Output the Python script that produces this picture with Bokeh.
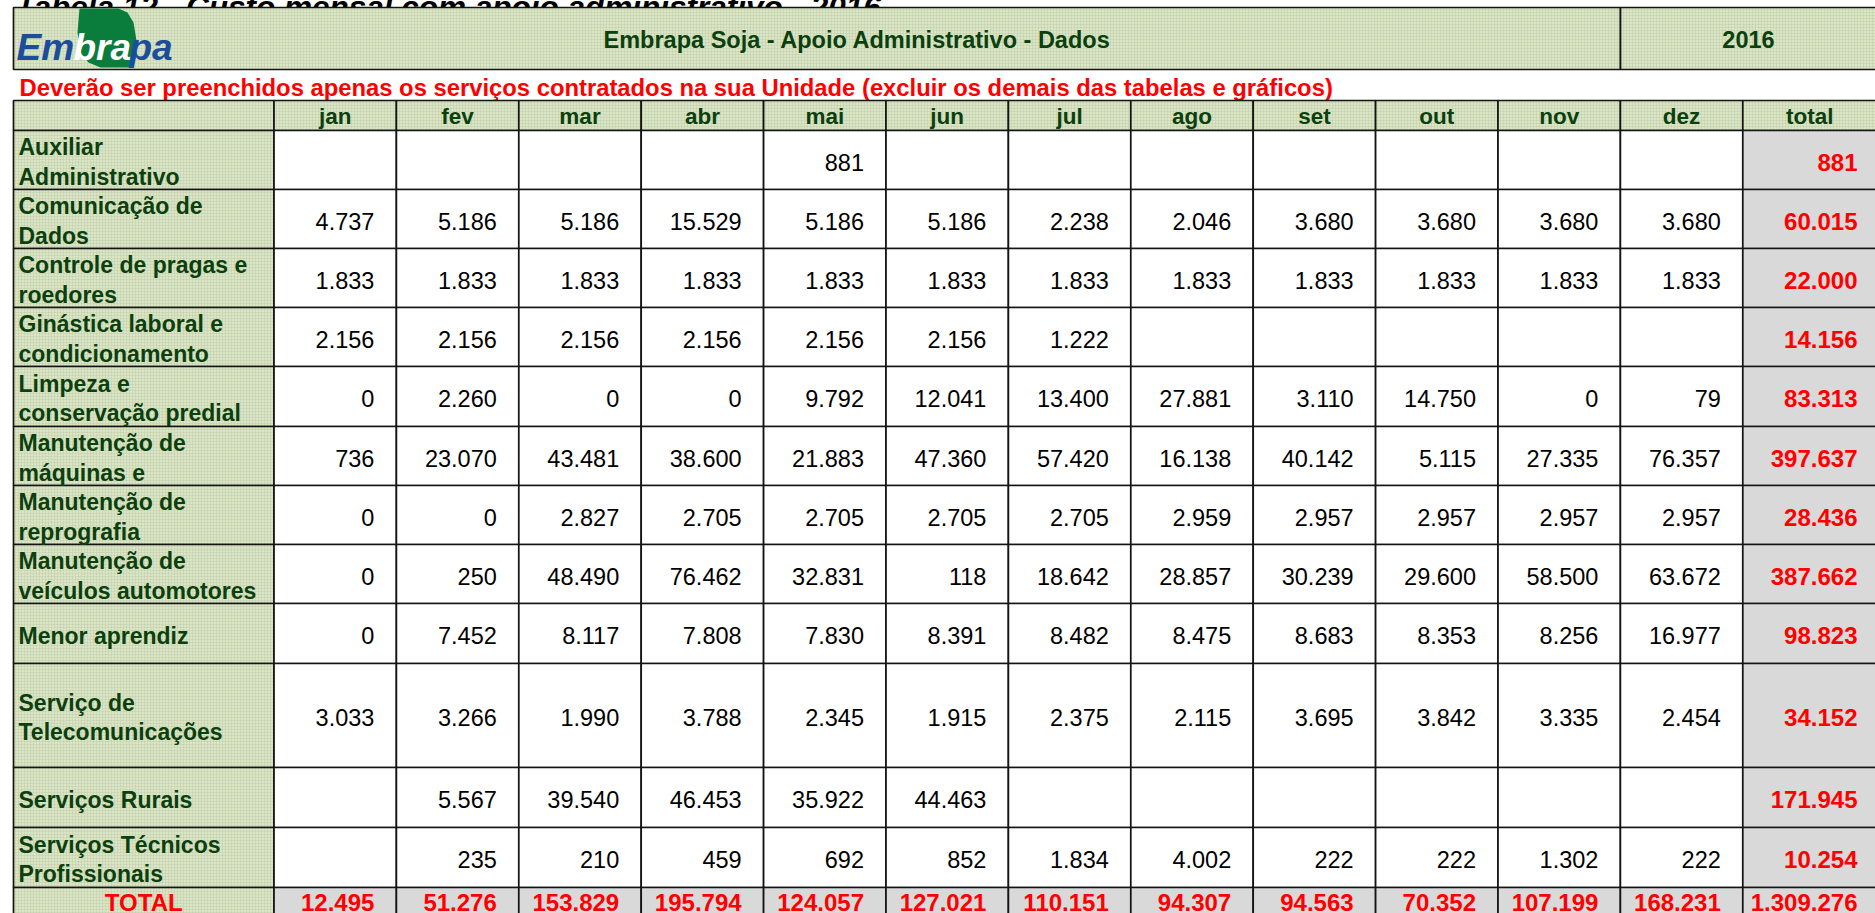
from bokeh.plotting import figure
from bokeh.models import Range1d
from bokeh.core.properties import value
from bokeh.embed import file_html
from bokeh.resources import INLINE

# ---------------- data ----------------
table_title = "Tabela 12 - Custo mensal com apoio administrativo - 2016"
band_title = "Embrapa Soja - Apoio Administrativo - Dados"
year_label = "2016"
note = ("Deverão ser preenchidos apenas os serviços contratados na sua Unidade "
        "(excluir os demais das tabelas e gráficos)")
months = ["jan", "fev", "mar", "abr", "mai", "jun", "jul", "ago", "set", "out", "nov", "dez"]
total_header = "total"
total_label = "TOTAL"

categories = [
    "Auxiliar\nAdministrativo",
    "Comunicação de\nDados",
    "Controle de pragas e\nroedores",
    "Ginástica laboral e\ncondicionamento",
    "Limpeza e\nconservação predial",
    "Manutenção de\nmáquinas e",
    "Manutenção de\nreprografia",
    "Manutenção de\nveículos automotores",
    "Menor aprendiz",
    "Serviço de\nTelecomunicações",
    "Serviços Rurais",
    "Serviços Técnicos\nProfissionais",
]

auxiliar = [None, None, None, None, 881, None, None, None, None, None, None, None]
comunicacao = [4737, 5186, 5186, 15529, 5186, 5186, 2238, 2046, 3680, 3680, 3680, 3680]
pragas = [1833, 1833, 1833, 1833, 1833, 1833, 1833, 1833, 1833, 1833, 1833, 1833]
ginastica = [2156, 2156, 2156, 2156, 2156, 2156, 1222, None, None, None, None, None]
limpeza = [0, 2260, 0, 0, 9792, 12041, 13400, 27881, 3110, 14750, 0, 79]
maquinas = [736, 23070, 43481, 38600, 21883, 47360, 57420, 16138, 40142, 5115, 27335, 76357]
reprografia = [0, 0, 2827, 2705, 2705, 2705, 2705, 2959, 2957, 2957, 2957, 2957]
veiculos = [0, 250, 48490, 76462, 32831, 118, 18642, 28857, 30239, 29600, 58500, 63672]
aprendiz = [0, 7452, 8117, 7808, 7830, 8391, 8482, 8475, 8683, 8353, 8256, 16977]
telecom = [3033, 3266, 1990, 3788, 2345, 1915, 2375, 2115, 3695, 3842, 3335, 2454]
rurais = [None, 5567, 39540, 46453, 35922, 44463, None, None, None, None, None, None]
tecnicos = [None, 235, 210, 459, 692, 852, 1834, 4002, 222, 222, 1302, 222]

row_totals = [881, 60015, 22000, 14156, 83313, 397637, 28436, 387662, 98823, 34152, 171945, 10254]
month_totals = [12495, 51276, 153829, 195794, 124057, 127021, 110151, 94307, 94563, 70352, 107199, 168231]
grand_total = 1309276

rows = [auxiliar, comunicacao, pragas, ginastica, limpeza, maquinas, reprografia,
        veiculos, aprendiz, telecom, rurais, tecnicos]


def fmt(v):
    return "" if v is None else f"{v:,}".replace(",", ".")


# ---------------- layout ----------------
W, H = 1875, 913
OFF = 8
X0 = 13.0
LABEL_R = 273.5
COL_W = 122.4
TOTAL_R = 1878.0
BAND_T, BAND_B, BAND_DIV = 7.0, 69.0, 1620.0
HEAD_T, HEAD_B = 100.0, 130.0
row_h = [59, 59, 59, 59, 60, 59, 59, 59, 60, 104, 60, 60]
TOTAL_H = 31

GREEN = "#d9e5c3"
HATCH = "#b4c39f"
GREY = "#d9d9d9"
DKGREEN = "#0c3f0e"
RED = "#ff0000"
LINE = "#141414"
FONT = value("Liberation Sans")

col_l = [LABEL_R + i * COL_W for i in range(len(months))] + [LABEL_R + len(months) * COL_W]
col_r = col_l[1:] + [TOTAL_R]
row_t = [HEAD_B]
for h in row_h:
    row_t.append(row_t[-1] + h)
row_b = row_t[1:]
row_t = row_t[:-1]
tot_t = row_b[-1]
tot_b = tot_t + TOTAL_H

p = figure(width=W + OFF, height=H + OFF, x_range=Range1d(-OFF, W), y_range=Range1d(H, -OFF),
           output_backend="svg", toolbar_location=None, min_border=0,
           x_axis_type=None, y_axis_type=None, outline_line_color=None,
           background_fill_color="white", border_fill_color="white")
p.grid.visible = False
p.margin = (-OFF, -OFF, -OFF, -OFF)

cell_kw = dict(line_color=LINE, line_width=1.7)
hatch_kw = dict(hatch_pattern="+", hatch_color=HATCH, hatch_scale=3,
                hatch_weight=0.6, hatch_alpha=0.55)

# title line (mostly cut off at the top, as in the original)
p.text(x=[15], y=[6], text=[table_title], text_font=FONT, text_font_style="bold italic",
       text_font_size="31.5px", text_color="black", text_baseline="alphabetic")

# header band
p.quad(left=[X0, BAND_DIV], right=[BAND_DIV, TOTAL_R], top=[BAND_T, BAND_T],
       bottom=[BAND_B, BAND_B], fill_color=GREEN, **hatch_kw, **cell_kw)

# logo leaf + lettering
leaf_x = [79, 118, 127, 133, 136, 135, 131, 100, 88, 80, 77]
leaf_y = [8, 8, 12, 22, 40, 58, 67, 67, 62, 52, 32]
p.patch(leaf_x, leaf_y, fill_color="#0a7d3c", line_color=None)
p.text(x=[16, 73, 129], y=[47, 47, 47], text=["Em", "bra", "pa"],
       text_color=["#1b4d9b", "white", "#1b4d9b"], text_font=FONT,
       text_font_style="bold italic", text_font_size="37px", text_baseline="alphabetic")

p.text(x=[857], y=[39], text=[band_title], text_font=FONT,
       text_font_style="bold", text_font_size="23.5px", text_color=DKGREEN,
       text_align="center", text_baseline="middle")
p.text(x=[1748], y=[39], text=[year_label], text_font=FONT,
       text_font_style="bold", text_font_size="23.5px", text_color=DKGREEN,
       text_align="center", text_baseline="middle")

# red note
p.text(x=[19], y=[87], text=[note], text_font=FONT, text_font_style="bold",
       text_font_size="23.8px", text_color=RED, text_baseline="middle")

# header row
p.quad(left=[X0] + col_l, right=[LABEL_R] + col_r, top=[HEAD_T] * 14, bottom=[HEAD_B] * 14,
       fill_color=GREEN, **hatch_kw, **cell_kw)
p.text(x=[(l + r) / 2 for l, r in zip(col_l, col_r[:12] + [col_l[12] + 134])],
       y=[116] * 13, text=months + [total_header], text_font=FONT, text_font_style="bold",
       text_font_size="22.5px", text_color=DKGREEN, text_align="center", text_baseline="middle")

# label column
p.quad(left=[X0] * (len(categories) + 1), right=[LABEL_R] * (len(categories) + 1),
       top=row_t + [tot_t], bottom=row_b + [tot_b], fill_color=GREEN, **hatch_kw, **cell_kw)
p.text(x=[18] * len(categories), y=[(t + b) / 2 + 2 for t, b in zip(row_t, row_b)],
       text=categories, text_font=FONT, text_font_style="bold", text_font_size="23px",
       text_color=DKGREEN, text_baseline="middle", text_line_height=1.12)
p.text(x=[(X0 + LABEL_R) / 2], y=[tot_t + 15], text=[total_label], text_font=FONT,
       text_font_style="bold", text_font_size="24px", text_color=RED,
       text_align="center", text_baseline="middle")

# data cells
cl, cr, ct, cb, tx, ty, tt = [], [], [], [], [], [], []
for vals, t, b in zip(rows, row_t, row_b):
    for j, v in enumerate(vals):
        cl.append(col_l[j]); cr.append(col_r[j]); ct.append(t); cb.append(b)
        tx.append(col_r[j] - 22); ty.append((t + b) / 2 + 2); tt.append(fmt(v))
p.quad(left=cl, right=cr, top=ct, bottom=cb, fill_color="white", **cell_kw)
p.text(x=tx, y=ty, text=tt, text_font=FONT, text_font_size="23.5px", text_color="black",
       text_align="right", text_baseline="middle")

# total column
p.quad(left=[col_l[12]] * len(rows), right=[TOTAL_R] * len(rows), top=row_t, bottom=row_b,
       fill_color=GREY, **cell_kw)
p.text(x=[1857] * len(rows), y=[(t + b) / 2 + 2 for t, b in zip(row_t, row_b)],
       text=[fmt(v) for v in row_totals], text_font=FONT, text_font_style="bold",
       text_font_size="24px", text_color=RED, text_align="right", text_baseline="middle")

# total row
p.quad(left=col_l, right=col_r, top=[tot_t] * 13, bottom=[tot_b] * 13,
       fill_color=GREY, **cell_kw)
p.text(x=[r - 22 for r in col_r[:12]] + [1857], y=[tot_t + 15] * 13,
       text=[fmt(v) for v in month_totals + [grand_total]], text_font=FONT,
       text_font_style="bold", text_font_size="24px", text_color=RED,
       text_align="right", text_baseline="middle")

open("out.html", "w").write(file_html(p, INLINE))
